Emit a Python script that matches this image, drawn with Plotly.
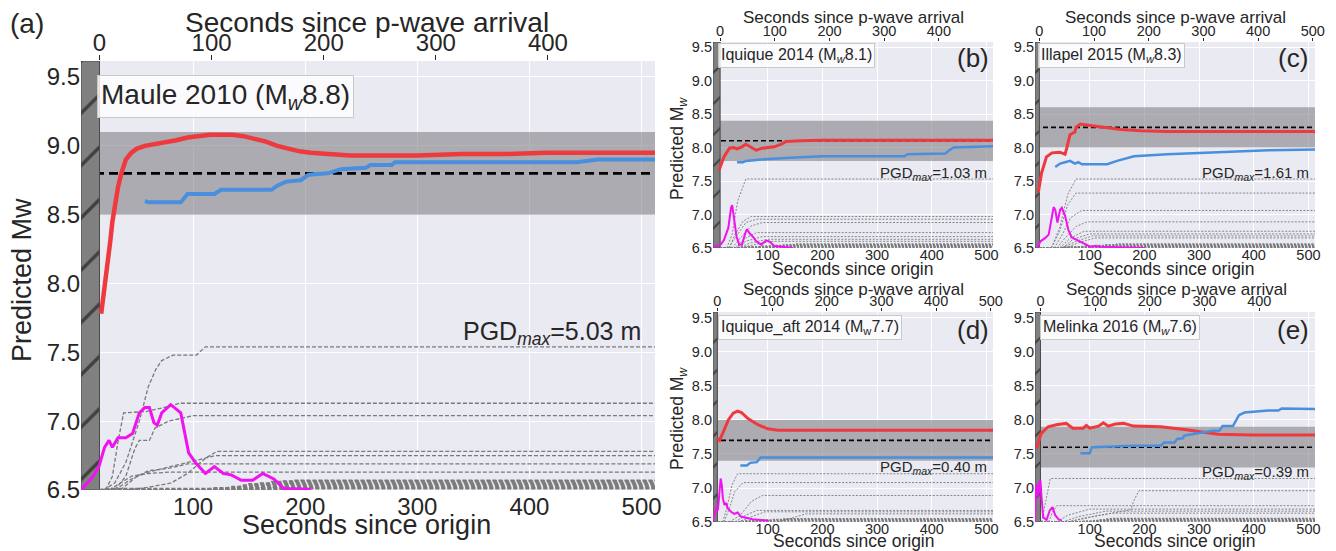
import plotly.graph_objects as go

# The page body keeps an 8 px margin, so the figure is 8 px smaller and positions are shifted
OFF = 8
W, H = 1336 - OFF, 551 - OFF
XMAX = 512
FONT = "Liberation Sans, Arial, sans-serif"
TXT = "#262626"

# ---------------- data ----------------
# (a) Maule 2010
a_true = 8.8
a_band = [8.5, 9.1]
a_pwave = 16.5
a_red_t = [18, 20, 22, 24, 26, 28, 30, 33, 36, 40, 45, 50, 57, 65, 74, 85, 95, 105, 115, 125, 135, 145,
           155, 165, 175, 185, 195, 205, 220, 240, 265, 300, 340, 380, 415, 450, 480, 512]
a_red_mw = [7.78, 7.9, 8.0, 8.12, 8.3, 8.45, 8.57, 8.7, 8.8, 8.9, 8.95, 8.98, 9.0, 9.01, 9.02, 9.04, 9.06,
            9.07, 9.08, 9.08, 9.08, 9.07, 9.05, 9.03, 9.0, 8.98, 8.96, 8.95, 8.94, 8.93, 8.93, 8.93, 8.94,
            8.94, 8.95, 8.95, 8.95, 8.95]
a_blue_t = [57, 60, 89, 95, 119, 125, 170, 175, 183, 196, 203, 220, 232, 254, 258, 277, 280, 442, 461, 512]
a_blue_mw = [8.6, 8.59, 8.59, 8.65, 8.65, 8.68, 8.68, 8.71, 8.74, 8.75, 8.79, 8.8, 8.83, 8.84, 8.86, 8.86,
             8.88, 8.88, 8.9, 8.9]
a_mag_t = [0, 10, 16, 21, 25, 28, 33, 40, 46, 52, 57, 61, 65, 68, 72, 80, 89, 96, 102, 111, 119, 127, 134,
           143, 153, 162, 172, 181, 205]
a_mag_mw = [6.5, 6.59, 6.67, 6.81, 6.86, 6.81, 6.88, 6.88, 6.91, 7.06, 7.1, 7.1, 6.99, 6.97, 7.06, 7.12,
            7.06, 6.77, 6.7, 6.62, 6.67, 6.62, 6.61, 6.57, 6.57, 6.62, 6.58, 6.51, 6.505]
a_sta_t = [[20, 30, 40, 52, 60, 67, 72, 82, 103, 111, 512],
           [22, 28, 33, 38, 58, 70, 80, 88, 512],
           [30, 40, 48, 52, 61, 66, 78, 100, 512],
           [40, 60, 80, 95, 111, 121, 512],
           [30, 45, 60, 85, 105, 120, 512],
           [35, 50, 60, 80, 95, 512],
           [25, 45, 60, 80, 512]]
a_sta_mw = [[6.5, 6.55, 6.7, 7.0, 7.25, 7.38, 7.44, 7.48, 7.48, 7.54, 7.54],
            [6.5, 6.6, 6.85, 7.06, 7.07, 7.09, 7.11, 7.13, 7.13],
            [6.5, 6.6, 6.8, 6.86, 6.86, 6.95, 7.0, 7.04, 7.04],
            [6.5, 6.52, 6.55, 6.62, 6.73, 6.78, 6.78],
            [6.5, 6.58, 6.63, 6.68, 6.72, 6.75, 6.75],
            [6.5, 6.6, 6.64, 6.66, 6.69, 6.69],
            [6.5, 6.6, 6.62, 6.63, 6.63]]
a_low_rise = [22, 120, 135, 145, 150, 160, 170, 180, 190]
a_low_mw = [6.51, 6.515, 6.525, 6.535, 6.545, 6.55, 6.56, 6.565, 6.57]

# (b) Iquique 2014
b_true = 8.1
b_band = [7.8, 8.4]
b_pwave = 13
b_red_t = [11, 20, 30, 38, 44, 53, 60, 69, 79, 90, 112, 125, 134, 160, 200, 300, 400, 512]
b_red_mw = [7.66, 7.86, 7.99, 8.0, 7.98, 8.01, 8.05, 8.01, 7.96, 7.99, 8.01, 8.05, 8.09, 8.1, 8.11, 8.11,
            8.11, 8.11]
b_blue_t = [44, 55, 60, 80, 100, 150, 200, 350, 356, 425, 432, 440, 512]
b_blue_mw = [7.78, 7.78, 7.8, 7.82, 7.83, 7.85, 7.87, 7.87, 7.9, 7.91, 7.96, 8.0, 8.02]
b_mag_t = [0, 14, 20, 28, 33, 35, 38, 43, 48, 53, 59, 62, 67, 74, 79, 88, 97, 103, 112, 146]
b_mag_mw = [6.52, 6.55, 6.62, 6.8, 7.1, 7.14, 6.97, 6.67, 6.55, 6.55, 6.72, 6.78, 6.72, 6.66, 6.6, 6.55,
            6.61, 6.6, 6.53, 6.5]
b_sta_t = [[25, 35, 45, 60, 512], [30, 40, 55, 70, 512], [28, 45, 60, 80, 512], [35, 50, 70, 90, 512],
           [40, 60, 80, 512], [40, 60, 90, 512], [45, 70, 100, 512], [50, 80, 110, 512]]
b_sta_mw = [[6.5, 6.7, 7.2, 7.53, 7.53], [6.5, 6.7, 6.9, 6.97, 6.97], [6.5, 6.7, 6.88, 6.93, 6.93],
            [6.5, 6.65, 6.83, 6.88, 6.88], [6.5, 6.65, 6.73, 6.73], [6.5, 6.6, 6.67, 6.67],
            [6.5, 6.58, 6.63, 6.63], [6.5, 6.56, 6.6, 6.6]]
b_low_rise = [30, 50, 70, 90, 110, 130, 150]
b_low_mw = [6.505, 6.515, 6.52, 6.53, 6.54, 6.55, 6.56]

# (c) Illapel 2015
c_true = 8.3
c_band = [8.0, 8.6]
c_pwave = 8
c_red_t = [6, 12, 21, 31, 45, 55, 58, 64, 70, 73, 75, 83, 101, 120, 157, 193, 242, 350, 512]
c_red_mw = [7.33, 7.62, 7.86, 7.92, 7.93, 7.9, 7.99, 8.19, 8.22, 8.23, 8.3, 8.35, 8.33, 8.31, 8.27, 8.25,
            8.24, 8.24, 8.24]
c_blue_t = [37, 46, 55, 64, 73, 79, 86, 132, 150, 181, 242, 304, 365, 427, 512]
c_blue_mw = [7.71, 7.76, 7.78, 7.8, 7.76, 7.78, 7.75, 7.75, 7.8, 7.87, 7.9, 7.92, 7.94, 7.96, 7.97]
c_mag_t = [4, 10, 19, 25, 31, 34, 37, 41, 46, 49, 55, 61, 67, 77, 89, 101, 110, 120, 200]
c_mag_mw = [6.5, 6.6, 6.65, 6.7, 6.97, 7.11, 7.07, 6.88, 7.07, 7.1, 6.98, 6.77, 6.66, 6.62, 6.58, 6.52,
            6.53, 6.52, 6.5]
c_sta_t = [[30, 45, 60, 75, 512], [30, 45, 60, 75, 512], [35, 50, 65, 85, 512], [40, 55, 75, 95, 512],
           [45, 65, 90, 512], [50, 70, 100, 512], [50, 75, 105, 512], [55, 80, 110, 512]]
c_sta_mw = [[6.5, 6.8, 7.3, 7.53, 7.53], [6.5, 6.75, 7.15, 7.32, 7.32], [6.5, 6.7, 6.95, 7.06, 7.06],
            [6.5, 6.65, 6.82, 6.89, 6.89], [6.5, 6.65, 6.75, 6.75], [6.5, 6.63, 6.71, 6.71],
            [6.5, 6.6, 6.68, 6.68], [6.5, 6.58, 6.65, 6.65]]
c_low_rise = [30, 50, 70, 90, 110, 130, 150]
c_low_mw = [6.505, 6.515, 6.52, 6.53, 6.54, 6.55, 6.56]

# (d) Iquique aftershock 2014
d_true = 7.7
d_band = [7.4, 8.0]
d_pwave = 8
d_red_t = [7, 12, 19, 28, 37, 45, 52, 64, 82, 100, 118, 148, 250, 512]
d_red_mw = [7.73, 7.7, 7.83, 8.0, 8.1, 8.13, 8.11, 8.02, 7.93, 7.87, 7.85, 7.85, 7.85, 7.85]
d_blue_t = [50, 62, 68, 80, 87, 512]
d_blue_mw = [7.33, 7.33, 7.37, 7.38, 7.45, 7.45]
d_mag_t = [0, 3, 6, 9, 12, 14, 16, 18, 21, 24, 27, 33, 39, 45, 51, 60, 72, 102]
d_mag_mw = [6.52, 6.6, 6.72, 6.67, 6.96, 7.14, 7.05, 6.85, 6.75, 6.78, 6.7, 6.65, 6.62, 6.64, 6.58, 6.56,
            6.54, 6.52]
d_sta_t = [[18, 25, 35, 45, 512], [20, 30, 40, 55, 512], [30, 50, 70, 90, 512], [40, 60, 80, 512],
           [45, 70, 95, 512], [120, 140, 170, 512]]
d_sta_mw = [[6.5, 6.7, 7.05, 7.21, 7.21], [6.5, 6.7, 6.95, 7.08, 7.08], [6.5, 6.6, 6.8, 6.89, 6.89],
            [6.5, 6.6, 6.67, 6.67], [6.5, 6.58, 6.65, 6.65], [6.5, 6.55, 6.62, 6.62]]
d_low_rise = [30, 60, 90, 110, 130]
d_low_mw = [6.51, 6.52, 6.53, 6.54, 6.55]

# (e) Melinka 2016
e_true = 7.6
e_band = [7.3, 7.9]
e_pwave = 10
e_red_t = [3, 11, 24, 39, 57, 69, 88, 94, 100, 116, 125, 134, 147, 162, 180, 230, 273, 335, 396, 512]
e_red_mw = [7.58, 7.8, 7.9, 7.93, 7.95, 7.88, 7.88, 7.92, 7.88, 7.91, 7.96, 7.91, 7.94, 7.95, 7.91, 7.9,
            7.86, 7.79, 7.78, 7.78]
e_blue_t = [83, 100, 104, 180, 230, 236, 255, 260, 270, 273, 295, 325, 337, 343, 362, 373, 383, 426, 445,
            451, 512]
e_blue_mw = [7.51, 7.51, 7.6, 7.62, 7.62, 7.67, 7.67, 7.72, 7.73, 7.77, 7.8, 7.84, 7.84, 7.91, 7.91, 8.07,
             8.11, 8.14, 8.14, 8.17, 8.16]
e_mag_t = [0, 2, 4.5, 6, 8, 10, 12, 15, 21, 27, 32, 37, 43, 49]
e_mag_mw = [6.5, 7.05, 7.03, 6.86, 7.08, 7.11, 6.86, 6.57, 6.53, 6.67, 6.72, 6.6, 6.54, 6.52]
e_sta_t = [[12, 20, 28, 512], [60, 120, 175, 180, 190, 512], [25, 32, 40, 512], [40, 60, 100, 512],
           [50, 80, 130, 512], [60, 90, 140, 512]]
e_sta_mw = [[6.5, 6.8, 7.14, 7.14], [6.5, 6.6, 6.68, 6.8, 6.96, 6.96], [6.5, 6.65, 6.74, 6.74],
            [6.5, 6.6, 6.69, 6.69], [6.5, 6.58, 6.66, 6.66], [6.5, 6.56, 6.63, 6.63]]
e_low_rise = [60, 90, 110, 120, 130, 140]
e_low_mw = [6.505, 6.515, 6.525, 6.535, 6.545, 6.555]

titles = ["Maule 2010 (M<sub><i>w</i></sub>8.8)", "Iquique 2014 (M<sub><i>w</i></sub>8.1)",
          "Illapel 2015 (M<sub><i>w</i></sub>8.3)", "Iquique_aft 2014 (M<sub>w</sub>7.7)",
          "Melinka 2016 (M<sub><i>w</i></sub>7.6)"]
pgd_labels = ["5.03 m", "1.03 m", "1.61 m", "0.40 m", "0.39 m"]
letters = ["(a)", "(b)", "(c)", "(d)", "(e)"]
bottom_ticks = [100, 200, 300, 400, 500]
top_ticks = [[0, 100, 200, 300, 400], [0, 100, 200, 300, 400], [0, 100, 200, 300, 400, 500],
             [0, 100, 200, 300, 400, 500], [0, 100, 200, 300, 400]]
y_ticks = [6.5, 7.0, 7.5, 8.0, 8.5, 9.0, 9.5]

# ---------------- layout geometry (screen pixels) ----------------
# x0, x1, ytop, ybottom, ymax
geom = [(81, 655, 61, 490, 9.616), (713, 993, 42, 248, 9.575), (1035, 1315, 42, 248, 9.575),
        (713, 993, 312, 522, 9.588), (1035, 1315, 312, 522, 9.588)]

panels = [
    (a_true, a_band, a_pwave, a_red_t, a_red_mw, a_blue_t, a_blue_mw, a_mag_t, a_mag_mw, a_sta_t, a_sta_mw, a_low_rise, a_low_mw),
    (b_true, b_band, b_pwave, b_red_t, b_red_mw, b_blue_t, b_blue_mw, b_mag_t, b_mag_mw, b_sta_t, b_sta_mw, b_low_rise, b_low_mw),
    (c_true, c_band, c_pwave, c_red_t, c_red_mw, c_blue_t, c_blue_mw, c_mag_t, c_mag_mw, c_sta_t, c_sta_mw, c_low_rise, c_low_mw),
    (d_true, d_band, d_pwave, d_red_t, d_red_mw, d_blue_t, d_blue_mw, d_mag_t, d_mag_mw, d_sta_t, d_sta_mw, d_low_rise, d_low_mw),
    (e_true, e_band, e_pwave, e_red_t, e_red_mw, e_blue_t, e_blue_mw, e_mag_t, e_mag_mw, e_sta_t, e_sta_mw, e_low_rise, e_low_mw),
]


def fx(p):
    return (p - OFF) / W


def fy(p):
    return 1 - (p - OFF) / H


fig = go.Figure()
layout = dict(width=W, height=H, margin=dict(l=0, r=0, t=0, b=0, autoexpand=False), paper_bgcolor="white",
              plot_bgcolor="#EAEAF2", showlegend=False, font=dict(family=FONT, color=TXT))
shapes = []
annotations = []

for i, (true_mw, band, pw, rt, rm, bt, bm, mt, mm, st, sm, lr, lm) in enumerate(panels):
    big = i == 0
    x0, x1, yt, yb, ymax = geom[i]
    xb = "x" if i == 0 else f"x{2 * i + 1}"
    xt = f"x{2 * i + 2}"
    yy = "y" if i == 0 else f"y{i + 1}"
    kb = "xaxis" if i == 0 else f"xaxis{2 * i + 1}"
    kt = f"xaxis{2 * i + 2}"
    ky = "yaxis" if i == 0 else f"yaxis{i + 1}"
    tick_size = 24 if big else 14.5
    layout[kb] = dict(domain=[fx(x0), fx(x1)], range=[0, XMAX], anchor=yy, tickvals=bottom_ticks,
                      showgrid=True, gridcolor="white", gridwidth=1.3 if big else 1, zeroline=False,
                      showline=False, ticks="", automargin=False,
                      ticklabelstandoff=0 if big else -4,
                      tickfont=dict(size=tick_size, color=TXT))
    layout[kt] = dict(range=[-pw, XMAX - pw], overlaying=xb, side="top", anchor=yy,
                      tickvals=top_ticks[i], showgrid=False, zeroline=False, showline=False,
                      ticks="outside", ticklen=5 if big else 3, tickcolor=TXT, tickwidth=1,
                      ticklabelstandoff=-6 if big else -4, automargin=False,
                      tickfont=dict(size=tick_size, color=TXT))
    layout[ky] = dict(domain=[fy(yb), fy(yt)], range=[6.5, ymax], anchor=xb, tickvals=y_ticks,
                      tickformat=".1f", showgrid=True, gridcolor="white", gridwidth=1.3 if big else 1,
                      zeroline=False, showline=False, ticks="", automargin=False,
                      tickfont=dict(size=tick_size, color=TXT))

    # uncertainty band
    shapes.append(dict(type="rect", xref=xb, yref=yy, x0=0, x1=XMAX, y0=band[0], y1=band[1],
                       fillcolor="rgba(118,118,124,0.55)", line_width=0, layer="between"))

    # true magnitude
    fig.add_trace(go.Scatter(x=[0, XMAX], y=[true_mw, true_mw], xaxis=xb, yaxis=yy, mode="lines",
                             line=dict(color="black", width=2.6 if big else 1.6,
                                       dash="9px,5px" if big else "5px,3px"), hoverinfo="skip"))

    # before p-wave arrival (hatched)
    fig.add_trace(go.Scatter(x=[0, pw, pw, 0, 0], y=[6.5, 6.5, ymax, ymax, 6.5], xaxis=xb, yaxis=yy,
                             mode="lines", fill="toself", fillcolor="#808080",
                             line=dict(color="#4a4a4a", width=1),
                             fillpattern=dict(shape="/", fgcolor="black", bgcolor="#808080",
                                              size=37 if big else 22, solidity=0.09),
                             hoverinfo="skip"))

    # station curves
    sdash = "4px,2px" if big else "2px,1.5px"
    swid = 1.3 if big else 0.9
    for t_list, m_list in zip(st, sm):
        fig.add_trace(go.Scatter(x=t_list, y=m_list, xaxis=xb, yaxis=yy, mode="lines",
                                 line=dict(color="#7a7a7a", width=swid, dash=sdash), hoverinfo="skip"))
    for rise, lvl in zip(lr, lm):
        fig.add_trace(go.Scatter(x=[pw, max(pw, rise - 12), rise, XMAX], y=[6.5, 6.5, lvl, lvl],
                                 xaxis=xb, yaxis=yy, mode="lines",
                                 line=dict(color="#7a7a7a", width=swid * 1.4, dash=sdash),
                                 hoverinfo="skip"))

    # magenta, red, blue
    fig.add_trace(go.Scatter(x=mt, y=mm, xaxis=xb, yaxis=yy, mode="lines",
                             line=dict(color="#F012F0", width=3 if big else 2), hoverinfo="skip"))
    fig.add_trace(go.Scatter(x=rt, y=rm, xaxis=xb, yaxis=yy, mode="lines",
                             line=dict(color="#EE3A3E", width=4.5 if big else 3), hoverinfo="skip"))
    fig.add_trace(go.Scatter(x=bt, y=bm, xaxis=xb, yaxis=yy, mode="lines",
                             line=dict(color="#4A8FDD", width=4 if big else 2.5), hoverinfo="skip"))
    # dummy for the top axis
    fig.add_trace(go.Scatter(x=[0], y=[6.5], xaxis=xt, yaxis=yy, mode="markers",
                             marker=dict(opacity=0), hoverinfo="skip"))

    # annotations
    box_pos = [(97, 75), (718, 43), (1038, 43), (718, 315), (1040, 315)][i]
    annotations.append(dict(xref="paper", yref="paper", x=fx(box_pos[0]), y=fy(box_pos[1]),
                            xanchor="left", yanchor="top", text=titles[i], showarrow=False,
                            font=dict(size=28 if big else 16, color=TXT),
                            bgcolor="rgba(255,255,255,0.82)", bordercolor="#c8c8c8", borderwidth=1,
                            borderpad=3 if big else 2))
    pgd_pos = [(643, 333), (989, 173), (1311, 173), (989, 468), (1311, 472)][i]
    annotations.append(dict(xref="paper", yref="paper", x=fx(pgd_pos[0]), y=fy(pgd_pos[1]),
                            xanchor="right", yanchor="middle",
                            text="PGD<sub><i>max</i></sub>=" + pgd_labels[i], showarrow=False,
                            font=dict(size=25 if big else 15, color=TXT)))
    if big:
        annotations.append(dict(xref="paper", yref="paper", x=fx(27), y=fy(23), xanchor="center",
                                yanchor="middle", text=letters[i], showarrow=False,
                                font=dict(size=28, color=TXT)))
    else:
        lp = [None, (973, 58), (1293, 58), (973, 330), (1293, 330)][i]
        annotations.append(dict(xref="paper", yref="paper", x=fx(lp[0]), y=fy(lp[1]), xanchor="center",
                                yanchor="middle", text=letters[i], showarrow=False,
                                font=dict(size=26, color=TXT)))

# axis titles (as text)
axis_titles = [
    ("Seconds since p-wave arrival", 367, 22, 28, 0),
    ("Seconds since origin", 367, 525, 27, 0),
    ("Predicted Mw", 22, 280, 27, -90),
    ("Seconds since p-wave arrival", 853, 18, 17, 0),
    ("Seconds since origin", 852, 269, 17.5, 0),
    ("Predicted M<sub><i>w</i></sub>", 678, 148, 17.5, -90),
    ("Seconds since p-wave arrival", 1175, 18, 17, 0),
    ("Seconds since origin", 1173, 269, 17.5, 0),
    ("Seconds since p-wave arrival", 853, 289, 17, 0),
    ("Seconds since origin", 853, 541, 17.5, 0),
    ("Predicted M<sub><i>w</i></sub>", 678, 418, 17.5, -90),
    ("Seconds since p-wave arrival", 1176, 289, 17, 0),
    ("Seconds since origin", 1174, 541, 17.5, 0),
]
for text, px, py, size, ang in axis_titles:
    annotations.append(dict(xref="paper", yref="paper", x=fx(px), y=fy(py), xanchor="center",
                            yanchor="middle", text=text, showarrow=False, textangle=ang,
                            font=dict(size=size, color=TXT)))

layout["shapes"] = shapes
layout["annotations"] = annotations
fig.update_layout(**layout)
fig.write_html("out.html")
